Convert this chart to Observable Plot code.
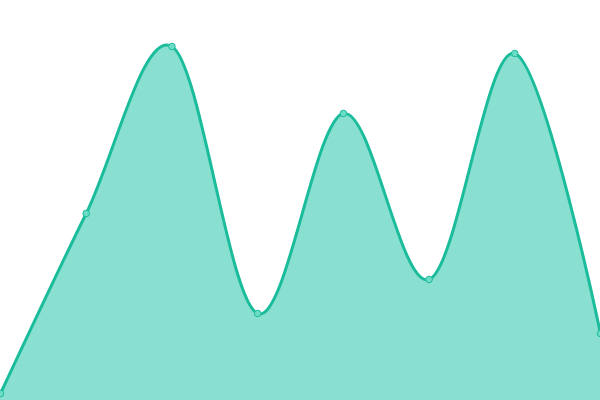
<!DOCTYPE html>
<html>
<head>
<meta charset="utf-8">
<script src="https://cdn.jsdelivr.net/npm/d3@7"></script>
<script src="https://cdn.jsdelivr.net/npm/@observablehq/plot@0.6"></script>
<style>
  html, body { margin: 0; padding: 0; background: #fff; overflow: hidden; }
  #chart svg { display: block; }
</style>
</head>
<body>
<div id="chart"></div>
<script>
const categories = [0, 1, 2, 3, 4, 5, 6, 7];
const values = [1.75, 46.75, 88.5, 21.75, 71.75, 30.25, 86.75, 16.75];

const data = categories.map((c, i) => ({x: c, y: values[i]}));

const chart = Plot.plot({
  width: 600,
  height: 400,
  margin: 0,
  x: {domain: [0, 7], axis: null},
  y: {domain: [0, 100], axis: null},
  style: {overflow: "hidden", background: "#fff"},
  marks: [
    Plot.areaY(data, {x: "x", y: "y", curve: "cardinal", fill: "#89e0d0"}),
    Plot.lineY(data, {x: "x", y: "y", curve: "cardinal", stroke: "#1abc9c", strokeWidth: 3}),
    Plot.dot(data, {x: "x", y: "y", r: 3.3, fill: "#6ddcc5", stroke: "#1abc9c", strokeWidth: 1})
  ]
});
document.getElementById("chart").append(chart);
</script>
</body>
</html>
